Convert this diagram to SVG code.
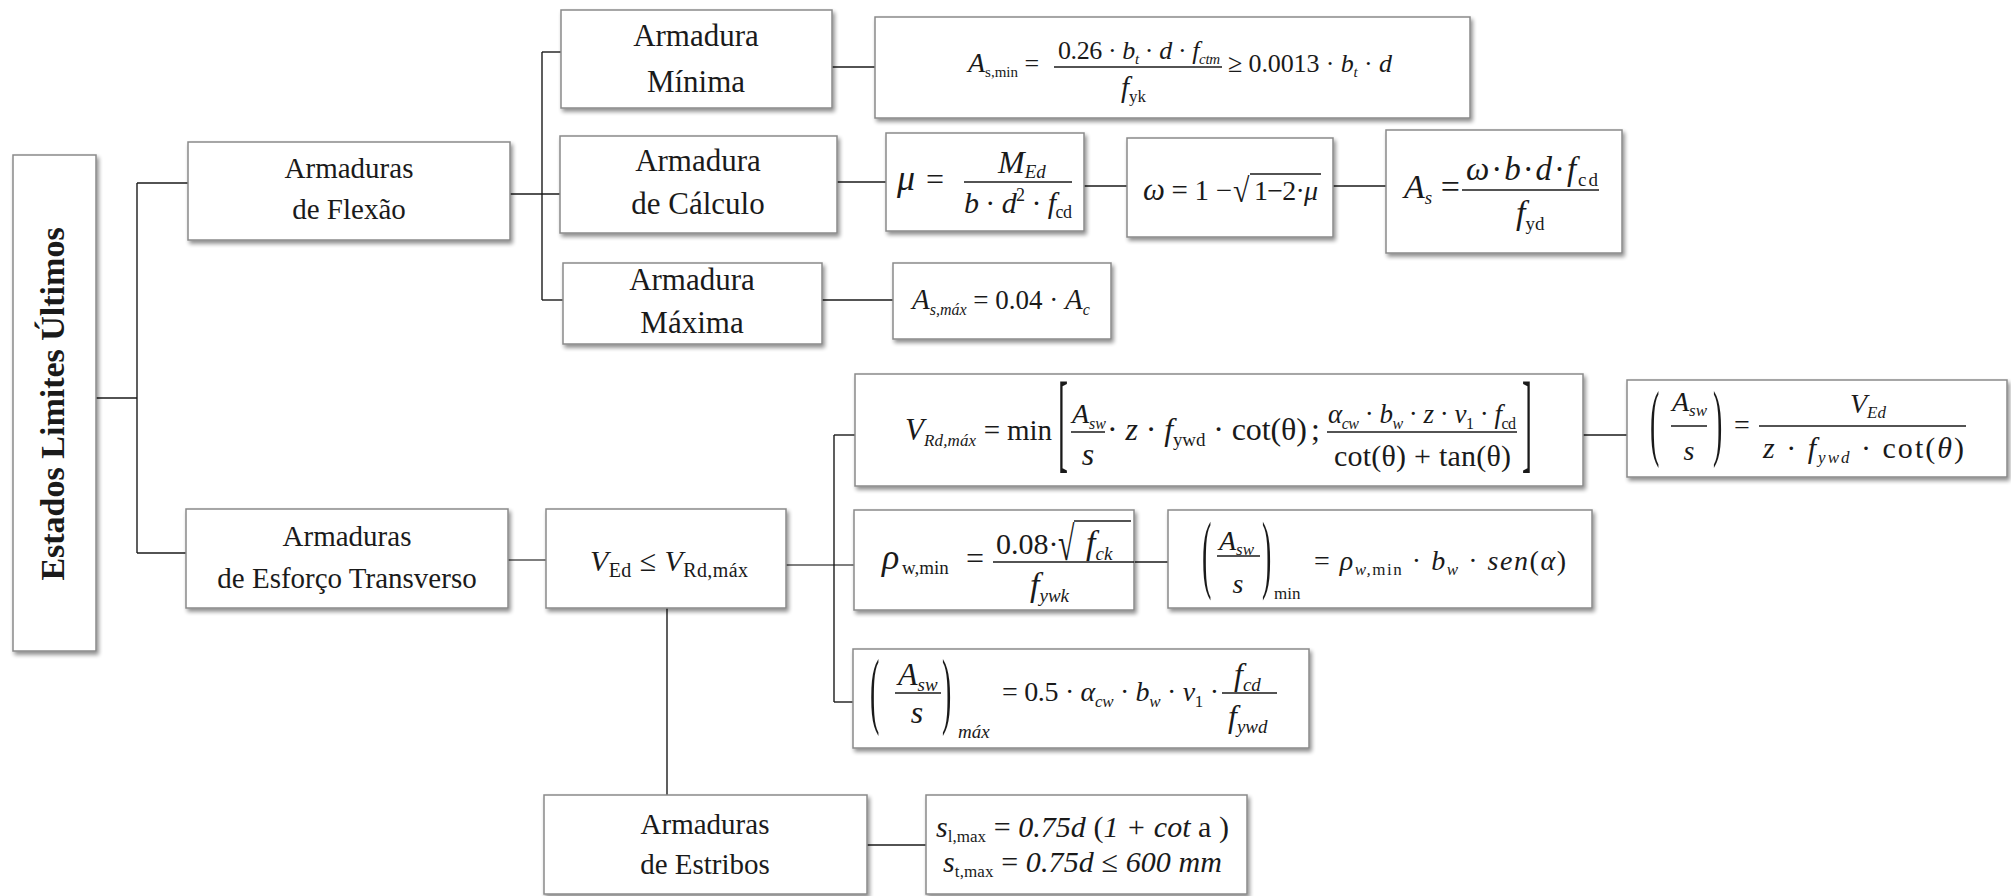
<svg xmlns="http://www.w3.org/2000/svg" width="2011" height="896" viewBox="0 0 2011 896">
<defs>
<filter id="sh" x="-10%" y="-10%" width="130%" height="140%">
<feGaussianBlur in="SourceAlpha" stdDeviation="2.2"/>
<feOffset dx="2" dy="3" result="b"/>
<feComponentTransfer><feFuncA type="linear" slope="0.45"/></feComponentTransfer>
<feMerge><feMergeNode/><feMergeNode in="SourceGraphic"/></feMerge>
</filter>
<style>
text { font-family: "Liberation Serif", "Times New Roman", serif; fill: #1a1a1a; }
.box { fill: #ffffff; stroke: #8a8a8a; stroke-width: 1.5; filter: url(#sh); }
.lbl { font-size: 29px; text-anchor: middle; }
.lb2 { font-size: 31px; text-anchor: middle; }
.i { font-style: italic; }
.fl { stroke: #1a1a1a; stroke-width: 1.3; }
#connectors line { stroke: #1a1a1a; stroke-width: 1.4; }
</style>
</defs>
<rect width="2011" height="896" fill="#ffffff"/>

<g id="connectors">
<line x1="96" y1="398" x2="137" y2="398"/>
<line x1="137" y1="183" x2="137" y2="553"/>
<line x1="137" y1="183" x2="188" y2="183"/>
<line x1="137" y1="553" x2="186" y2="553"/>
<line x1="510" y1="194" x2="560" y2="194"/>
<line x1="542" y1="52" x2="542" y2="300"/>
<line x1="542" y1="52" x2="561" y2="52"/>
<line x1="542" y1="300" x2="563" y2="300"/>
<line x1="832" y1="67" x2="875" y2="67"/>
<line x1="837" y1="182" x2="886" y2="182"/>
<line x1="1084" y1="186" x2="1127" y2="186"/>
<line x1="1333" y1="186" x2="1386" y2="186"/>
<line x1="822" y1="300" x2="893" y2="300"/>
<line x1="508" y1="560" x2="546" y2="560" style="stroke:#555"/>
<line x1="786" y1="565" x2="854" y2="565" style="stroke:#555"/>
<line x1="834" y1="435" x2="834" y2="702"/>
<line x1="834" y1="435" x2="855" y2="435"/>
<line x1="834" y1="702" x2="853" y2="702"/>
<line x1="1583" y1="435" x2="1627" y2="435"/>
<line x1="1134" y1="562" x2="1168" y2="562"/>
<line x1="667" y1="608" x2="667" y2="795"/>
<line x1="867" y1="845" x2="926" y2="845"/>
</g>

<g id="root">
<rect class="box" x="13" y="155" width="83" height="496"/>
<text transform="translate(64,404) rotate(-90)" text-anchor="middle" font-weight="bold" font-size="34">Estados Limites Últimos</text>
</g>

<g id="flexao">
<rect class="box" x="188" y="142" width="322" height="98"/>
<text class="lbl" x="349" y="178">Armaduras</text>
<text class="lbl" x="349" y="219">de Flexão</text>
</g>

<g id="esforco">
<rect class="box" x="186" y="509" width="322" height="99"/>
<text class="lbl" x="347" y="546">Armaduras</text>
<text class="lbl" x="347" y="588">de Esforço Transverso</text>
</g>

<g id="minima">
<rect class="box" x="561" y="10" width="271" height="98"/>
<text class="lb2" x="696" y="46">Armadura</text>
<text class="lb2" x="696" y="92">Mínima</text>
</g>

<g id="calculo">
<rect class="box" x="560" y="136" width="277" height="97"/>
<text class="lb2" x="698" y="171">Armadura</text>
<text class="lb2" x="698" y="214">de Cálculo</text>
</g>

<g id="maxima">
<rect class="box" x="563" y="263" width="259" height="81"/>
<text class="lb2" x="692" y="290">Armadura</text>
<text class="lb2" x="692" y="333">Máxima</text>
</g>

<g id="f-asmin" font-size="26">
<rect class="box" x="875" y="17" width="595" height="101"/>
<text x="968" y="72"><tspan class="i" font-size="28">A</tspan><tspan font-size="15" dy="5">s,min</tspan><tspan dy="-5"> =</tspan></text>
<line class="fl" x1="1054" y1="67" x2="1222" y2="67"/>
<text x="1058" y="59" textLength="162" lengthAdjust="spacing">0.26 · <tspan class="i">b</tspan><tspan class="i" font-size="15" dy="5">t</tspan><tspan dy="-5"> · </tspan><tspan class="i">d</tspan> · <tspan class="i">f</tspan><tspan class="i" font-size="15" dy="5">ctm</tspan></text>
<text x="1121" y="97" font-size="29"><tspan class="i">f</tspan><tspan font-size="17" dy="5">yk</tspan></text>
<text x="1228" y="72" textLength="164" lengthAdjust="spacing">≥ 0.0013 · <tspan class="i">b</tspan><tspan class="i" font-size="15" dy="5">t</tspan><tspan dy="-5"> · </tspan><tspan class="i">d</tspan></text>
</g>

<g id="f-mu">
<rect class="box" x="886" y="133" width="198" height="98"/>
<text x="897" y="190" font-size="36" class="i">μ</text>
<text x="926" y="190" font-size="32">=</text>
<line class="fl" x1="964" y1="182" x2="1072" y2="182"/>
<text x="998" y="173" font-size="32"><tspan class="i">M</tspan><tspan class="i" font-size="19" dy="5">Ed</tspan></text>
<text x="964" y="213" font-size="30" textLength="108" lengthAdjust="spacing"><tspan class="i">b</tspan> · <tspan class="i">d</tspan><tspan font-size="18" dy="-12">2</tspan><tspan dy="12"> · </tspan><tspan class="i">f</tspan><tspan font-size="18" dy="5">cd</tspan></text>
</g>

<g id="f-omega">
<rect class="box" x="1127" y="138" width="206" height="99"/>
<text x="1143" y="200" font-size="29" textLength="89" lengthAdjust="spacing"><tspan class="i" font-size="31">ω</tspan> = 1 −</text>
<text font-size="30" transform="translate(1233,202) scale(1,1.13)">√</text>
<line class="fl" x1="1250" y1="174" x2="1321" y2="174"/>
<text x="1254" y="200" font-size="28" textLength="64" lengthAdjust="spacing">1−2·<tspan class="i">μ</tspan></text>
</g>

<g id="f-as">
<rect class="box" x="1386" y="130" width="236" height="123"/>
<text x="1404" y="198" font-size="34"><tspan class="i">A</tspan><tspan class="i" font-size="19" dy="6">s</tspan><tspan dy="-6"> =</tspan></text>
<line class="fl" x1="1462" y1="190" x2="1599" y2="190"/>
<text x="1466" y="180" font-size="33" textLength="132" lengthAdjust="spacing"><tspan class="i">ω</tspan>·<tspan class="i">b</tspan>·<tspan class="i">d</tspan>·<tspan class="i">f</tspan><tspan font-size="19" dy="6">cd</tspan></text>
<text x="1516" y="224" font-size="34"><tspan class="i">f</tspan><tspan font-size="19" dy="6">yd</tspan></text>
</g>

<g id="f-asmax">
<rect class="box" x="893" y="263" width="218" height="76"/>
<text x="912" y="309" font-size="27"><tspan class="i" font-size="29">A</tspan><tspan class="i" font-size="16" dy="6">s,máx</tspan><tspan dy="-6"> = 0.04 · </tspan><tspan class="i" font-size="29">A</tspan><tspan class="i" font-size="16" dy="6">c</tspan></text>
</g>

<g id="vcheck">
<rect class="box" x="546" y="509" width="240" height="99"/>
<text x="590" y="571" font-size="30" textLength="158" lengthAdjust="spacing"><tspan class="i">V</tspan><tspan font-size="20" dy="6">Ed</tspan><tspan dy="-6"> ≤ </tspan><tspan class="i">V</tspan><tspan font-size="20" dy="6">Rd,máx</tspan></text>
</g>

<g id="f-vrd">
<rect class="box" x="855" y="374" width="728" height="112"/>
<text x="905" y="440" font-size="29" textLength="95" lengthAdjust="spacing"><tspan class="i" font-size="31">V</tspan><tspan class="i" font-size="17" dy="6">Rd,máx</tspan><tspan dy="-6"> =</tspan></text>
<text x="1007" y="440" font-size="29" textLength="45" lengthAdjust="spacing">min</text>
<text font-size="30" transform="translate(1058,458) scale(1,3.7)">[</text>
<line class="fl" x1="1071" y1="432" x2="1105" y2="432"/>
<text x="1072" y="423" font-size="28"><tspan class="i">A</tspan><tspan class="i" font-size="16" dy="6">sw</tspan></text>
<text x="1088" y="465" font-size="32" class="i" text-anchor="middle">s</text>
<text x="1107" y="440" font-size="32" textLength="200" lengthAdjust="spacing">· <tspan class="i">z</tspan> · <tspan class="i">f</tspan><tspan font-size="19" dy="6">ywd</tspan><tspan dy="-6"> · cot(θ)</tspan></text>
<text x="1311" y="440" font-size="32">;</text>
<line class="fl" x1="1327" y1="432" x2="1517" y2="432"/>
<text x="1328" y="423" font-size="27" textLength="188" lengthAdjust="spacing"><tspan class="i">α</tspan><tspan class="i" font-size="16" dy="6">cw</tspan><tspan dy="-6"> · </tspan><tspan class="i">b</tspan><tspan class="i" font-size="16" dy="6">w</tspan><tspan dy="-6"> · </tspan><tspan class="i">z</tspan> · <tspan class="i">ν</tspan><tspan font-size="16" dy="6">1</tspan><tspan dy="-6"> · </tspan><tspan class="i">f</tspan><tspan font-size="16" dy="6">cd</tspan></text>
<text x="1334" y="466" font-size="30" textLength="177" lengthAdjust="spacing">cot(θ) + tan(θ)</text>
<text font-size="30" transform="translate(1522,458) scale(1,3.7)">]</text>
</g>

<g id="f-asws" font-size="28">
<rect class="box" x="1627" y="380" width="380" height="97"/>
<text transform="translate(1650,450) scale(1,3.05)">(</text>
<line class="fl" x1="1671" y1="426" x2="1707" y2="426"/>
<text x="1672" y="411"><tspan class="i">A</tspan><tspan class="i" font-size="17" dy="5">sw</tspan></text>
<text x="1689" y="460" class="i" text-anchor="middle">s</text>
<text transform="translate(1713,450) scale(1,3.05)">)</text>
<text x="1734" y="434">=</text>
<line class="fl" x1="1759" y1="426" x2="1966" y2="426"/>
<text x="1850" y="413"><tspan class="i">V</tspan><tspan class="i" font-size="17" dy="5">Ed</tspan></text>
<text x="1763" y="458" font-size="30" textLength="201" lengthAdjust="spacing"><tspan class="i">z</tspan> · <tspan class="i">f</tspan><tspan class="i" font-size="17" dy="5">ywd</tspan><tspan dy="-5"> · cot(</tspan><tspan class="i">θ</tspan>)</text>
</g>

<g id="f-rho">
<rect class="box" x="854" y="510" width="280" height="100"/>
<text x="882" y="569" font-size="36" class="i">ρ</text>
<text x="902" y="574" font-size="19">w,min</text>
<text x="966" y="569" font-size="32">=</text>
<line class="fl" x1="993" y1="562" x2="1134" y2="562"/>
<text x="996" y="554" font-size="30">0.08·</text>
<text font-size="30" transform="translate(1058,560) scale(1,1.6)">√</text>
<line class="fl" x1="1074" y1="521" x2="1131" y2="521"/>
<text x="1086" y="554" font-size="34"><tspan class="i">f</tspan><tspan class="i" font-size="19" dy="6">ck</tspan></text>
<text x="1030" y="596" font-size="34"><tspan class="i">f</tspan><tspan class="i" font-size="19" dy="6">ywk</tspan></text>
</g>

<g id="f-aswmin" font-size="28">
<rect class="box" x="1168" y="510" width="424" height="98"/>
<text transform="translate(1202,582) scale(1,3.1)">(</text>
<line class="fl" x1="1217" y1="556" x2="1260" y2="556"/>
<text x="1219" y="550"><tspan class="i">A</tspan><tspan class="i" font-size="17" dy="5">sw</tspan></text>
<text x="1238" y="593" class="i" text-anchor="middle">s</text>
<text transform="translate(1262,582) scale(1,3.1)">)</text>
<text x="1274" y="599" font-size="17">min</text>
<text x="1314" y="570" textLength="252" lengthAdjust="spacing">= <tspan class="i">ρ</tspan><tspan class="i" font-size="17" dy="5">w,</tspan><tspan font-size="17">min</tspan><tspan dy="-5"> · </tspan><tspan class="i">b</tspan><tspan class="i" font-size="17" dy="5">w</tspan><tspan dy="-5"> · </tspan><tspan class="i">sen</tspan>(<tspan class="i">α</tspan>)</text>
</g>

<g id="f-aswmax" font-size="28">
<rect class="box" x="853" y="649" width="456" height="99"/>
<text transform="translate(870,718) scale(1,3.05)">(</text>
<line class="fl" x1="895" y1="693" x2="941" y2="693"/>
<text x="898" y="685" font-size="32"><tspan class="i">A</tspan><tspan class="i" font-size="19" dy="6">sw</tspan></text>
<text x="917" y="723" font-size="32" class="i" text-anchor="middle">s</text>
<text transform="translate(942,718) scale(1,3.05)">)</text>
<text x="958" y="738" font-size="19" class="i">máx</text>
<text x="1002" y="701" textLength="217" lengthAdjust="spacing">= 0.5 · <tspan class="i">α</tspan><tspan class="i" font-size="17" dy="6">cw</tspan><tspan dy="-6"> · </tspan><tspan class="i">b</tspan><tspan class="i" font-size="17" dy="6">w</tspan><tspan dy="-6"> · </tspan><tspan class="i">ν</tspan><tspan font-size="17" dy="6">1</tspan><tspan dy="-6"> ·</tspan></text>
<line class="fl" x1="1222" y1="693" x2="1277" y2="693"/>
<text x="1234" y="685" font-size="32"><tspan class="i">f</tspan><tspan class="i" font-size="19" dy="6">cd</tspan></text>
<text x="1228" y="727" font-size="32"><tspan class="i">f</tspan><tspan class="i" font-size="19" dy="6">ywd</tspan></text>
</g>

<g id="estribos">
<rect class="box" x="544" y="795" width="323" height="99"/>
<text class="lbl" x="705" y="834">Armaduras</text>
<text class="lbl" x="705" y="874">de Estribos</text>
</g>

<g id="f-s" font-size="30">
<rect class="box" x="926" y="795" width="321" height="99"/>
<text x="936" y="837" textLength="293" lengthAdjust="spacing"><tspan class="i">s</tspan><tspan font-size="17" dy="5">l,max</tspan><tspan dy="-5"> = </tspan><tspan class="i">0.75d</tspan> (<tspan class="i">1 + cot</tspan> a )</text>
<text x="943" y="872" textLength="279" lengthAdjust="spacing"><tspan class="i">s</tspan><tspan font-size="17" dy="5">t,max</tspan><tspan dy="-5"> = </tspan><tspan class="i">0.75d ≤ 600 mm</tspan></text>
</g>
</svg>
